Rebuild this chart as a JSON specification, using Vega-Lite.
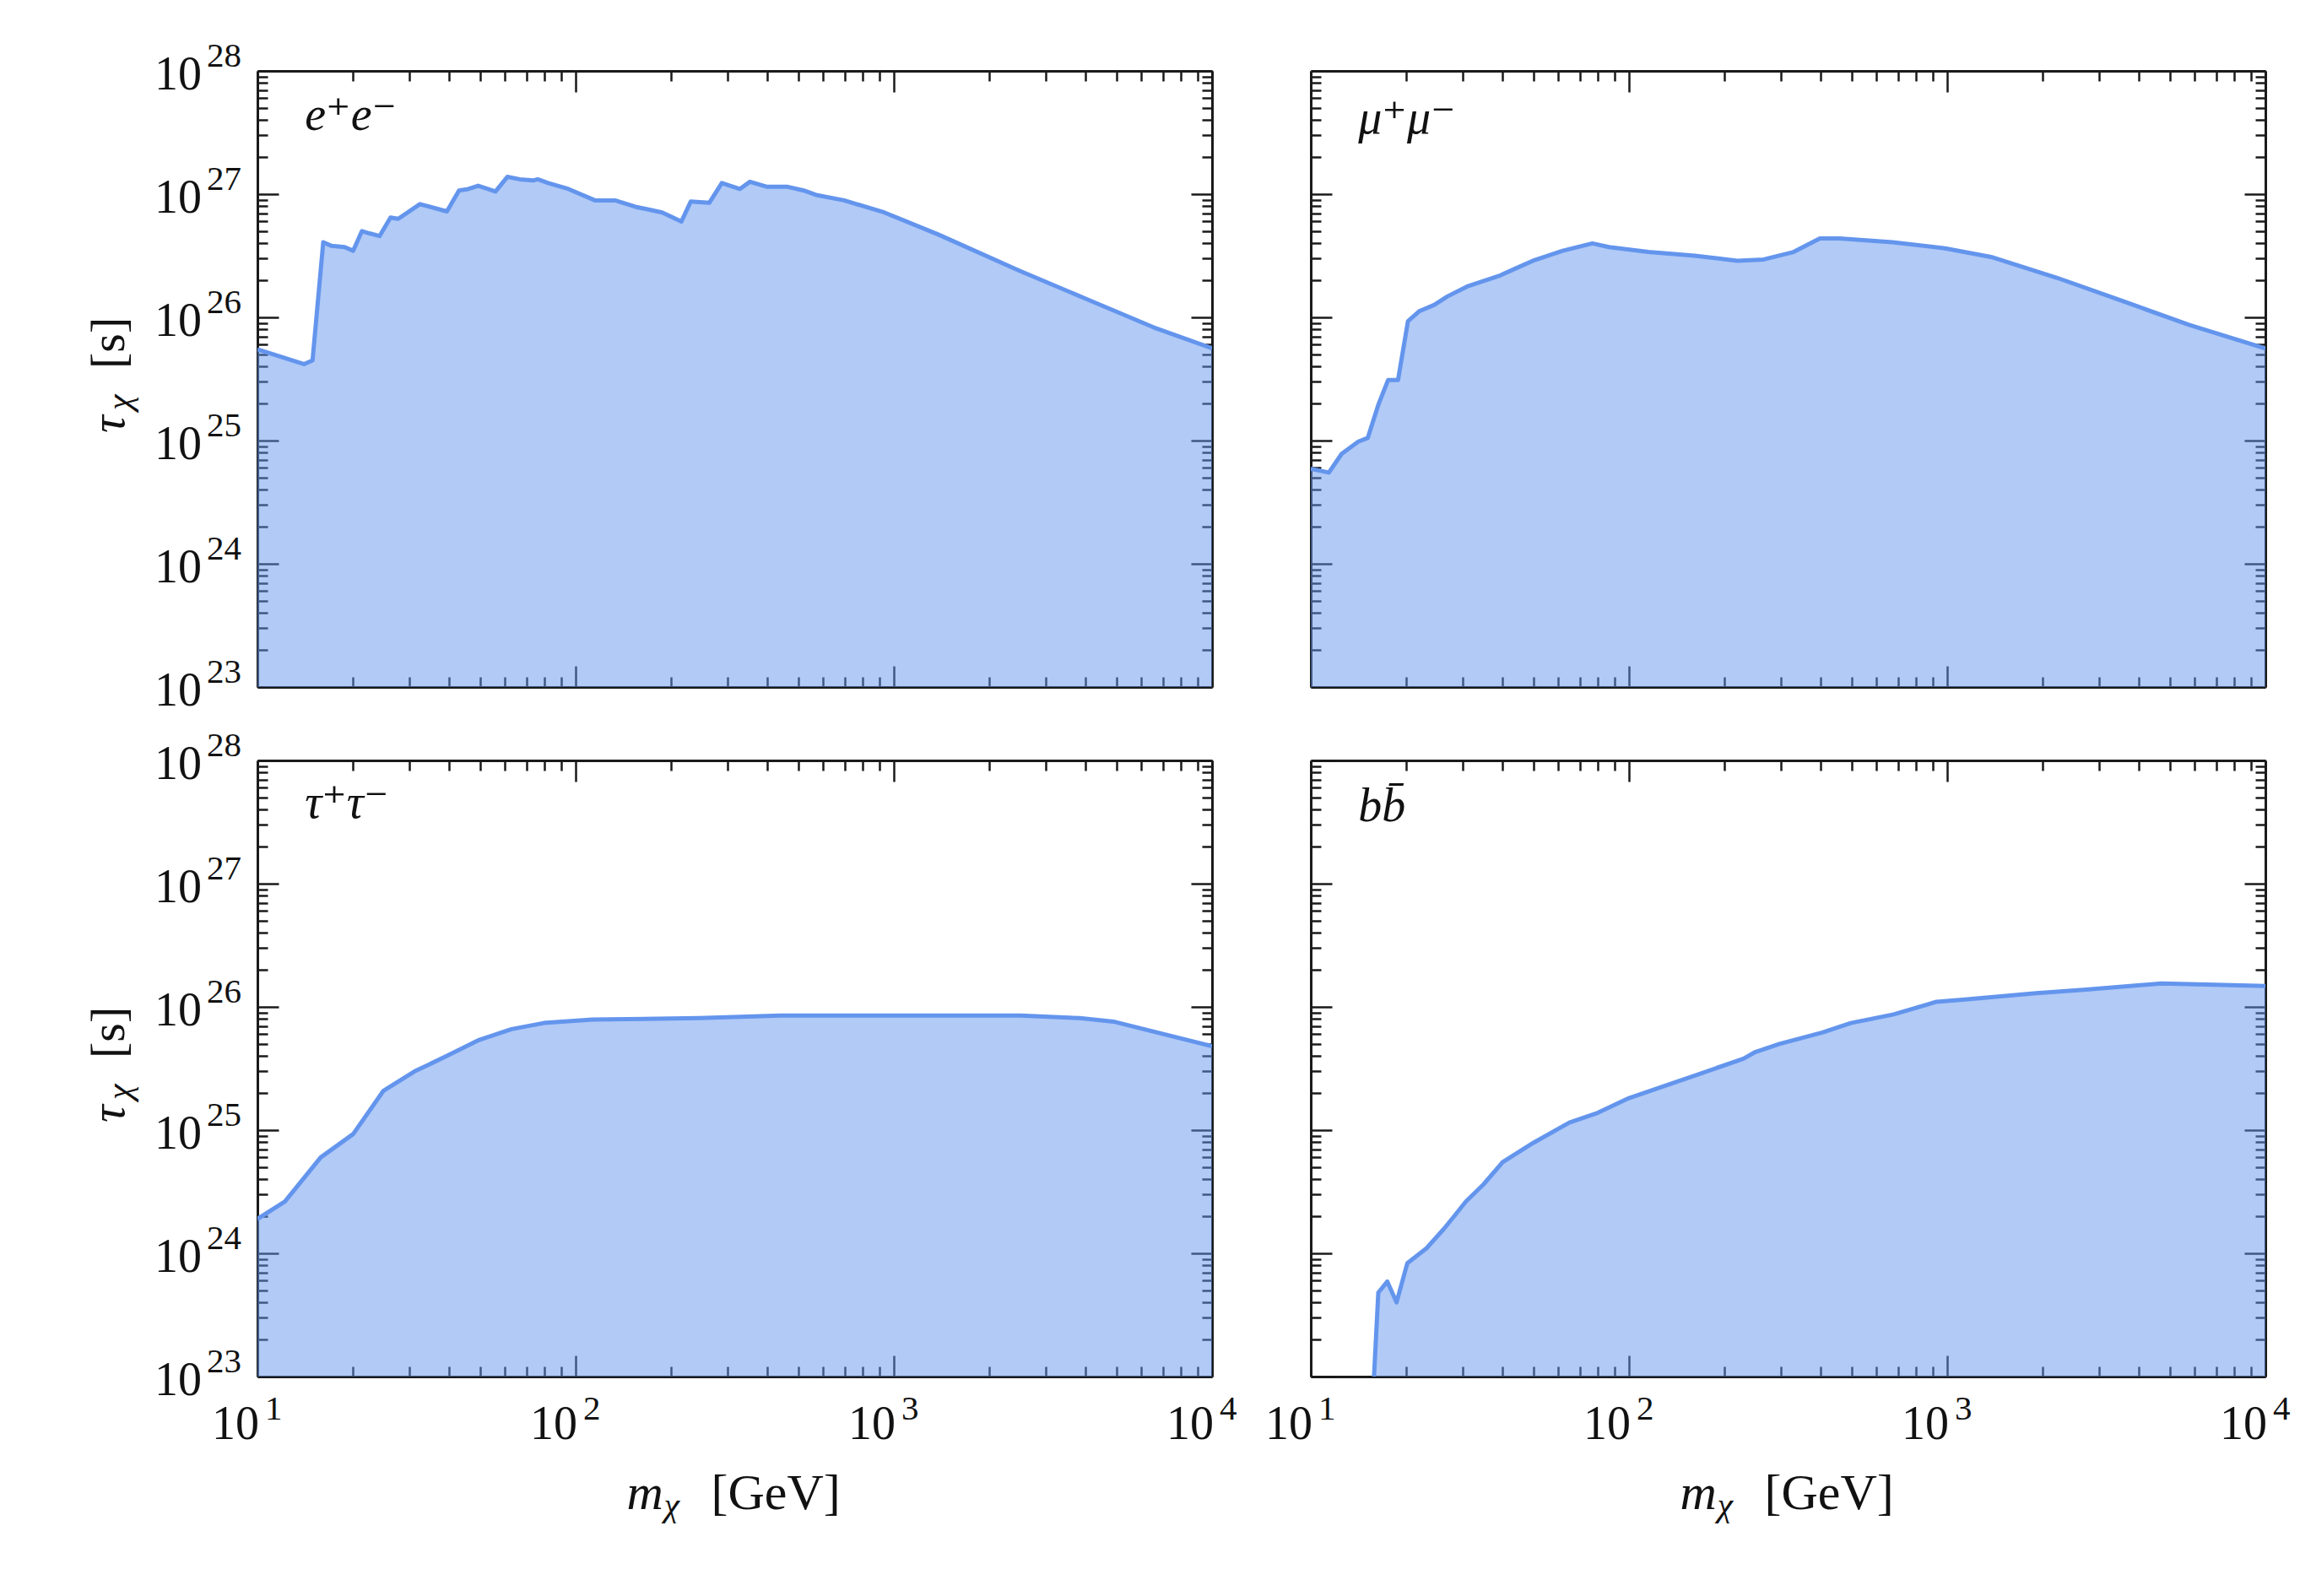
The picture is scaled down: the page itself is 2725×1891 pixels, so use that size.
{
  "$schema": "https://vega.github.io/schema/vega-lite/v6.json",
  "background": "white",
  "padding": {"left": 101, "top": 46, "right": 0, "bottom": 0},
  "columns": 2,
  "spacing": {"row": 87, "column": 117},
  "bounds": "flush",
  "config": {
    "view": {"stroke": null},
    "axis": {
      "domain": true, "domainColor": "#1a1a1a", "domainWidth": 3,
      "grid": false, "tickColor": "#1a1a1a", "tickWidth": 2.5, "labels": false,
      "zindex": 1
    },
    "text": {"font": "Liberation Serif, DejaVu Serif", "color": "#111111"}
  },
  "datasets": {
    "ylabels": [{"v": 1e23, "e": "23"}, {"v": 1e24, "e": "24"}, {"v": 1e25, "e": "25"}, {"v": 1e26, "e": "26"}, {"v": 1e27, "e": "27"}, {"v": 1e28, "e": "28"}],
    "xlabels": [{"v": 10, "e": "1"}, {"v": 100, "e": "2"}, {"v": 1000, "e": "3"}, {"v": 10000, "e": "4"}],
    "ee": [
      {"m": 10, "tau": 5.5e25}, {"m": 14.0, "tau": 4.17e25}, {"m": 14.9, "tau": 4.47e25}, {"m": 16.1, "tau": 4.07e26},
      {"m": 17.1, "tau": 3.8e26}, {"m": 18.8, "tau": 3.72e26}, {"m": 20.0, "tau": 3.47e26}, {"m": 21.3, "tau": 5.01e26},
      {"m": 22.5, "tau": 4.8e26}, {"m": 24.2, "tau": 4.57e26}, {"m": 26.2, "tau": 6.46e26}, {"m": 27.7, "tau": 6.3e26},
      {"m": 32.4, "tau": 8.3e26}, {"m": 39.4, "tau": 7.24e26}, {"m": 43.0, "tau": 1.07e27}, {"m": 46.0, "tau": 1.1e27},
      {"m": 49.4, "tau": 1.17e27}, {"m": 56, "tau": 1.05e27}, {"m": 61, "tau": 1.38e27}, {"m": 66.7, "tau": 1.32e27},
      {"m": 73.5, "tau": 1.29e27}, {"m": 76, "tau": 1.32e27}, {"m": 82, "tau": 1.23e27}, {"m": 95, "tau": 1.1e27},
      {"m": 115, "tau": 8.9e26}, {"m": 133, "tau": 8.9e26}, {"m": 154, "tau": 7.9e26}, {"m": 187, "tau": 7.1e26},
      {"m": 215, "tau": 6.0e26}, {"m": 230, "tau": 8.7e26}, {"m": 263, "tau": 8.5e26}, {"m": 288, "tau": 1.23e27},
      {"m": 328, "tau": 1.1e27}, {"m": 353, "tau": 1.26e27}, {"m": 398, "tau": 1.15e27}, {"m": 461, "tau": 1.15e27},
      {"m": 521, "tau": 1.07e27}, {"m": 574, "tau": 9.8e26}, {"m": 698, "tau": 8.9e26}, {"m": 933, "tau": 7.1e26},
      {"m": 1380, "tau": 4.7e26}, {"m": 2472, "tau": 2.4e26}, {"m": 4027, "tau": 1.41e26}, {"m": 6546, "tau": 8.3e25},
      {"m": 10000, "tau": 5.6e25}
    ],
    "mumu": [
      {"m": 10, "tau": 5.9e24}, {"m": 11.4, "tau": 5.5e24}, {"m": 12.5, "tau": 7.8e24}, {"m": 14.1, "tau": 9.8e24},
      {"m": 15.1, "tau": 1.05e25}, {"m": 16.3, "tau": 1.95e25}, {"m": 17.5, "tau": 3.1e25}, {"m": 18.8, "tau": 3.1e25},
      {"m": 20.2, "tau": 9.3e25}, {"m": 21.9, "tau": 1.12e26}, {"m": 24.4, "tau": 1.26e26}, {"m": 26.9, "tau": 1.48e26},
      {"m": 31, "tau": 1.78e26}, {"m": 39.4, "tau": 2.19e26}, {"m": 44.3, "tau": 2.51e26}, {"m": 49.9, "tau": 2.88e26},
      {"m": 61.9, "tau": 3.47e26}, {"m": 76.7, "tau": 3.98e26}, {"m": 86.5, "tau": 3.72e26}, {"m": 115, "tau": 3.39e26},
      {"m": 161, "tau": 3.16e26}, {"m": 219, "tau": 2.88e26}, {"m": 265, "tau": 2.95e26}, {"m": 329, "tau": 3.39e26},
      {"m": 398, "tau": 4.37e26}, {"m": 459, "tau": 4.37e26}, {"m": 673, "tau": 4.07e26}, {"m": 985, "tau": 3.63e26},
      {"m": 1374, "tau": 3.09e26}, {"m": 2218, "tau": 2.09e26}, {"m": 3573, "tau": 1.35e26}, {"m": 5754, "tau": 8.7e25},
      {"m": 10000, "tau": 5.6e25}
    ],
    "tautau": [
      {"m": 10, "tau": 1.9e24}, {"m": 12.2, "tau": 2.63e24}, {"m": 15.8, "tau": 6.0e24}, {"m": 20, "tau": 9.3e24},
      {"m": 24.9, "tau": 2.09e25}, {"m": 31.2, "tau": 3.0e25}, {"m": 39.4, "tau": 4.0e25}, {"m": 49.8, "tau": 5.4e25},
      {"m": 62.9, "tau": 6.6e25}, {"m": 79.4, "tau": 7.4e25}, {"m": 113, "tau": 7.9e25}, {"m": 245, "tau": 8.1e25},
      {"m": 441, "tau": 8.5e25}, {"m": 1650, "tau": 8.5e25}, {"m": 2500, "tau": 8.5e25}, {"m": 3840, "tau": 8.1e25},
      {"m": 4900, "tau": 7.6e25}, {"m": 10000, "tau": 4.8e25}
    ],
    "bb": [
      {"m": 15.8, "tau": 1e23}, {"m": 16.3, "tau": 4.8e23}, {"m": 17.4, "tau": 5.9e23}, {"m": 18.6, "tau": 4.0e23},
      {"m": 20.1, "tau": 8.3e23}, {"m": 23.1, "tau": 1.1e24}, {"m": 26.2, "tau": 1.58e24}, {"m": 28.4, "tau": 2.04e24},
      {"m": 30.7, "tau": 2.63e24}, {"m": 34.9, "tau": 3.63e24}, {"m": 40.1, "tau": 5.5e24}, {"m": 50.1, "tau": 7.9e24},
      {"m": 64.9, "tau": 1.15e25}, {"m": 79.7, "tau": 1.38e25}, {"m": 100, "tau": 1.82e25}, {"m": 144, "tau": 2.51e25},
      {"m": 164, "tau": 2.82e25}, {"m": 229, "tau": 3.8e25}, {"m": 248, "tau": 4.27e25}, {"m": 297, "tau": 5.0e25},
      {"m": 405, "tau": 6.2e25}, {"m": 498, "tau": 7.4e25}, {"m": 679, "tau": 8.7e25}, {"m": 925, "tau": 1.1e26},
      {"m": 1137, "tau": 1.15e26}, {"m": 1905, "tau": 1.29e26}, {"m": 2735, "tau": 1.38e26}, {"m": 4710, "tau": 1.55e26},
      {"m": 6918, "tau": 1.51e26}, {"m": 10000, "tau": 1.48e26}
    ]
  },
  "concat": [
    {
      "width": 1131, "height": 730,
      "data": {"name": "ee"},
      "resolve": {"axis": {"x": "independent", "y": "independent"}},
      "layer": [
        {
          "mark": {"type": "area", "color": "#6495ED", "opacity": 0.5, "clip": true},
          "encoding": {
            "x": {"field": "m", "type": "quantitative", "scale": {"type": "log", "domain": [10, 10000], "nice": false},
              "axis": {"orient": "bottom", "title": null, "values": [10,20,30,40,50,60,70,80,90,100,200,300,400,500,600,700,800,900,1000,2000,3000,4000,5000,6000,7000,8000,9000,10000],
                "tickSize": {"condition": {"test": "abs(log(datum.value)/LN10 - round(log(datum.value)/LN10)) < 0.0001", "value": -25}, "value": -12}}},
            "y": {"field": "tau", "type": "quantitative", "scale": {"type": "log", "domain": [1e23, 1e28], "nice": false},
              "axis": {"orient": "left", "title": null,
                "values": [1e23,2e23,3e23,4e23,5e23,6e23,7e23,8e23,9e23,1e24,2e24,3e24,4e24,5e24,6e24,7e24,8e24,9e24,1e25,2e25,3e25,4e25,5e25,6e25,7e25,8e25,9e25,1e26,2e26,3e26,4e26,5e26,6e26,7e26,8e26,9e26,1e27,2e27,3e27,4e27,5e27,6e27,7e27,8e27,9e27,1e28],
                "tickSize": {"condition": {"test": "abs(log(datum.value)/LN10 - round(log(datum.value)/LN10)) < 0.0001", "value": -25}, "value": -12}}},
            "y2": {"datum": 1e23}
          }
        },
        {
          "mark": {"type": "line", "color": "#6495ED", "strokeWidth": 5, "clip": true, "strokeJoin": "round"},
          "encoding": {
            "x": {"field": "m", "type": "quantitative",
              "axis": {"orient": "top", "title": null, "values": [10,20,30,40,50,60,70,80,90,100,200,300,400,500,600,700,800,900,1000,2000,3000,4000,5000,6000,7000,8000,9000,10000],
                "tickSize": {"condition": {"test": "abs(log(datum.value)/LN10 - round(log(datum.value)/LN10)) < 0.0001", "value": -25}, "value": -12}}},
            "y": {"field": "tau", "type": "quantitative",
              "axis": {"orient": "right", "title": null,
                "values": [1e23,2e23,3e23,4e23,5e23,6e23,7e23,8e23,9e23,1e24,2e24,3e24,4e24,5e24,6e24,7e24,8e24,9e24,1e25,2e25,3e25,4e25,5e25,6e25,7e25,8e25,9e25,1e26,2e26,3e26,4e26,5e26,6e26,7e26,8e26,9e26,1e27,2e27,3e27,4e27,5e27,6e27,7e27,8e27,9e27,1e28],
                "tickSize": {"condition": {"test": "abs(log(datum.value)/LN10 - round(log(datum.value)/LN10)) < 0.0001", "value": -25}, "value": -12}}}
          }
        },
        {
          "data": {"values": [{"label": "e⁺e⁻"}]},
          "mark": {"type": "text", "fontStyle": "italic", "fontSize": 56, "align": "left", "baseline": "alphabetic"},
          "encoding": {"x": {"datum": 14.1, "type": "quantitative", "axis": null}, "y": {"datum": 3.3e27, "type": "quantitative", "axis": null}, "text": {"field": "label"}}
        },
        {
          "data": {"name": "ylabels"},
          "mark": {"type": "text", "fontSize": 56, "align": "right", "baseline": "alphabetic", "dx": -66, "dy": 22},
          "encoding": {"x": {"datum": 10, "type": "quantitative", "axis": null}, "y": {"field": "v", "type": "quantitative", "axis": null}, "text": {"value": "10"}}
        },
        {
          "data": {"name": "ylabels"},
          "mark": {"type": "text", "fontSize": 41, "align": "left", "baseline": "alphabetic", "dx": -60, "dy": -5},
          "encoding": {"x": {"datum": 10, "type": "quantitative", "axis": null}, "y": {"field": "v", "type": "quantitative", "axis": null}, "text": {"field": "e"}}
        },
        {
          "data": {"values": [{"t": "τ"}]},
          "mark": {"type": "text", "fontStyle": "italic", "fontSize": 58, "align": "left", "baseline": "alphabetic", "angle": 270, "dx": -64, "dy": -158},
          "encoding": {"x": {"datum": 10, "type": "quantitative", "axis": null}, "y": {"datum": 3.1623e25, "type": "quantitative", "axis": null}, "text": {"field": "t"}}
        },
        {
          "data": {"values": [{"t": "χ"}]},
          "mark": {"type": "text", "fontStyle": "italic", "fontSize": 42, "align": "left", "baseline": "alphabetic", "angle": 270, "dx": -37, "dy": -150},
          "encoding": {"x": {"datum": 10, "type": "quantitative", "axis": null}, "y": {"datum": 3.1623e25, "type": "quantitative", "axis": null}, "text": {"field": "t"}}
        },
        {
          "data": {"values": [{"t": "[s]"}]},
          "mark": {"type": "text", "fontSize": 58, "align": "left", "baseline": "alphabetic", "angle": 270, "dx": 12, "dy": -158},
          "encoding": {"x": {"datum": 10, "type": "quantitative", "axis": null}, "y": {"datum": 3.1623e25, "type": "quantitative", "axis": null}, "text": {"field": "t"}}
        }
      ]
    },
    {
      "width": 1131, "height": 730,
      "data": {"name": "mumu"},
      "resolve": {"axis": {"x": "independent", "y": "independent"}},
      "layer": [
        {
          "mark": {"type": "area", "color": "#6495ED", "opacity": 0.5, "clip": true},
          "encoding": {
            "x": {"field": "m", "type": "quantitative", "scale": {"type": "log", "domain": [10, 10000], "nice": false},
              "axis": {"orient": "bottom", "title": null, "values": [10,20,30,40,50,60,70,80,90,100,200,300,400,500,600,700,800,900,1000,2000,3000,4000,5000,6000,7000,8000,9000,10000],
                "tickSize": {"condition": {"test": "abs(log(datum.value)/LN10 - round(log(datum.value)/LN10)) < 0.0001", "value": -25}, "value": -12}}},
            "y": {"field": "tau", "type": "quantitative", "scale": {"type": "log", "domain": [1e23, 1e28], "nice": false},
              "axis": {"orient": "left", "title": null,
                "values": [1e23,2e23,3e23,4e23,5e23,6e23,7e23,8e23,9e23,1e24,2e24,3e24,4e24,5e24,6e24,7e24,8e24,9e24,1e25,2e25,3e25,4e25,5e25,6e25,7e25,8e25,9e25,1e26,2e26,3e26,4e26,5e26,6e26,7e26,8e26,9e26,1e27,2e27,3e27,4e27,5e27,6e27,7e27,8e27,9e27,1e28],
                "tickSize": {"condition": {"test": "abs(log(datum.value)/LN10 - round(log(datum.value)/LN10)) < 0.0001", "value": -25}, "value": -12}}},
            "y2": {"datum": 1e23}
          }
        },
        {
          "mark": {"type": "line", "color": "#6495ED", "strokeWidth": 5, "clip": true, "strokeJoin": "round"},
          "encoding": {
            "x": {"field": "m", "type": "quantitative",
              "axis": {"orient": "top", "title": null, "values": [10,20,30,40,50,60,70,80,90,100,200,300,400,500,600,700,800,900,1000,2000,3000,4000,5000,6000,7000,8000,9000,10000],
                "tickSize": {"condition": {"test": "abs(log(datum.value)/LN10 - round(log(datum.value)/LN10)) < 0.0001", "value": -25}, "value": -12}}},
            "y": {"field": "tau", "type": "quantitative",
              "axis": {"orient": "right", "title": null,
                "values": [1e23,2e23,3e23,4e23,5e23,6e23,7e23,8e23,9e23,1e24,2e24,3e24,4e24,5e24,6e24,7e24,8e24,9e24,1e25,2e25,3e25,4e25,5e25,6e25,7e25,8e25,9e25,1e26,2e26,3e26,4e26,5e26,6e26,7e26,8e26,9e26,1e27,2e27,3e27,4e27,5e27,6e27,7e27,8e27,9e27,1e28],
                "tickSize": {"condition": {"test": "abs(log(datum.value)/LN10 - round(log(datum.value)/LN10)) < 0.0001", "value": -25}, "value": -12}}}
          }
        },
        {
          "data": {"values": [{"label": "μ⁺μ⁻"}]},
          "mark": {"type": "text", "fontStyle": "italic", "fontSize": 56, "align": "left", "baseline": "alphabetic"},
          "encoding": {"x": {"datum": 14.1, "type": "quantitative", "axis": null}, "y": {"datum": 3.1e27, "type": "quantitative", "axis": null}, "text": {"field": "label"}}
        }
      ]
    },
    {
      "width": 1131, "height": 730,
      "data": {"name": "tautau"},
      "resolve": {"axis": {"x": "independent", "y": "independent"}},
      "layer": [
        {
          "mark": {"type": "area", "color": "#6495ED", "opacity": 0.5, "clip": true},
          "encoding": {
            "x": {"field": "m", "type": "quantitative", "scale": {"type": "log", "domain": [10, 10000], "nice": false},
              "axis": {"orient": "bottom", "title": null, "values": [10,20,30,40,50,60,70,80,90,100,200,300,400,500,600,700,800,900,1000,2000,3000,4000,5000,6000,7000,8000,9000,10000],
                "tickSize": {"condition": {"test": "abs(log(datum.value)/LN10 - round(log(datum.value)/LN10)) < 0.0001", "value": -25}, "value": -12}}},
            "y": {"field": "tau", "type": "quantitative", "scale": {"type": "log", "domain": [1e23, 1e28], "nice": false},
              "axis": {"orient": "left", "title": null,
                "values": [1e23,2e23,3e23,4e23,5e23,6e23,7e23,8e23,9e23,1e24,2e24,3e24,4e24,5e24,6e24,7e24,8e24,9e24,1e25,2e25,3e25,4e25,5e25,6e25,7e25,8e25,9e25,1e26,2e26,3e26,4e26,5e26,6e26,7e26,8e26,9e26,1e27,2e27,3e27,4e27,5e27,6e27,7e27,8e27,9e27,1e28],
                "tickSize": {"condition": {"test": "abs(log(datum.value)/LN10 - round(log(datum.value)/LN10)) < 0.0001", "value": -25}, "value": -12}}},
            "y2": {"datum": 1e23}
          }
        },
        {
          "mark": {"type": "line", "color": "#6495ED", "strokeWidth": 5, "clip": true, "strokeJoin": "round"},
          "encoding": {
            "x": {"field": "m", "type": "quantitative",
              "axis": {"orient": "top", "title": null, "values": [10,20,30,40,50,60,70,80,90,100,200,300,400,500,600,700,800,900,1000,2000,3000,4000,5000,6000,7000,8000,9000,10000],
                "tickSize": {"condition": {"test": "abs(log(datum.value)/LN10 - round(log(datum.value)/LN10)) < 0.0001", "value": -25}, "value": -12}}},
            "y": {"field": "tau", "type": "quantitative",
              "axis": {"orient": "right", "title": null,
                "values": [1e23,2e23,3e23,4e23,5e23,6e23,7e23,8e23,9e23,1e24,2e24,3e24,4e24,5e24,6e24,7e24,8e24,9e24,1e25,2e25,3e25,4e25,5e25,6e25,7e25,8e25,9e25,1e26,2e26,3e26,4e26,5e26,6e26,7e26,8e26,9e26,1e27,2e27,3e27,4e27,5e27,6e27,7e27,8e27,9e27,1e28],
                "tickSize": {"condition": {"test": "abs(log(datum.value)/LN10 - round(log(datum.value)/LN10)) < 0.0001", "value": -25}, "value": -12}}}
          }
        },
        {
          "data": {"values": [{"label": "τ⁺τ⁻"}]},
          "mark": {"type": "text", "fontStyle": "italic", "fontSize": 56, "align": "left", "baseline": "alphabetic"},
          "encoding": {"x": {"datum": 14.1, "type": "quantitative", "axis": null}, "y": {"datum": 3.4e27, "type": "quantitative", "axis": null}, "text": {"field": "label"}}
        },
        {
          "data": {"name": "ylabels"},
          "mark": {"type": "text", "fontSize": 56, "align": "right", "baseline": "alphabetic", "dx": -66, "dy": 22},
          "encoding": {"x": {"datum": 10, "type": "quantitative", "axis": null}, "y": {"field": "v", "type": "quantitative", "axis": null}, "text": {"value": "10"}}
        },
        {
          "data": {"name": "ylabels"},
          "mark": {"type": "text", "fontSize": 41, "align": "left", "baseline": "alphabetic", "dx": -60, "dy": -5},
          "encoding": {"x": {"datum": 10, "type": "quantitative", "axis": null}, "y": {"field": "v", "type": "quantitative", "axis": null}, "text": {"field": "e"}}
        },
        {
          "data": {"values": [{"t": "τ"}]},
          "mark": {"type": "text", "fontStyle": "italic", "fontSize": 58, "align": "left", "baseline": "alphabetic", "angle": 270, "dx": -64, "dy": -158},
          "encoding": {"x": {"datum": 10, "type": "quantitative", "axis": null}, "y": {"datum": 3.1623e25, "type": "quantitative", "axis": null}, "text": {"field": "t"}}
        },
        {
          "data": {"values": [{"t": "χ"}]},
          "mark": {"type": "text", "fontStyle": "italic", "fontSize": 42, "align": "left", "baseline": "alphabetic", "angle": 270, "dx": -37, "dy": -150},
          "encoding": {"x": {"datum": 10, "type": "quantitative", "axis": null}, "y": {"datum": 3.1623e25, "type": "quantitative", "axis": null}, "text": {"field": "t"}}
        },
        {
          "data": {"values": [{"t": "[s]"}]},
          "mark": {"type": "text", "fontSize": 58, "align": "left", "baseline": "alphabetic", "angle": 270, "dx": 12, "dy": -158},
          "encoding": {"x": {"datum": 10, "type": "quantitative", "axis": null}, "y": {"datum": 3.1623e25, "type": "quantitative", "axis": null}, "text": {"field": "t"}}
        },
        {
          "data": {"name": "xlabels"},
          "mark": {"type": "text", "fontSize": 56, "align": "right", "baseline": "alphabetic", "dx": 2, "dy": 74},
          "encoding": {"x": {"field": "v", "type": "quantitative", "axis": null}, "y": {"datum": 1e23, "type": "quantitative", "axis": null}, "text": {"value": "10"}}
        },
        {
          "data": {"name": "xlabels"},
          "mark": {"type": "text", "fontSize": 41, "align": "left", "baseline": "alphabetic", "dx": 9, "dy": 51},
          "encoding": {"x": {"field": "v", "type": "quantitative", "axis": null}, "y": {"datum": 1e23, "type": "quantitative", "axis": null}, "text": {"field": "e"}}
        },
        {
          "data": {"values": [{"t": "m"}]},
          "mark": {"type": "text", "fontStyle": "italic", "fontSize": 60, "align": "left", "baseline": "alphabetic", "dx": -128, "dy": 157},
          "encoding": {"x": {"datum": 316.23, "type": "quantitative", "axis": null}, "y": {"datum": 1e23, "type": "quantitative", "axis": null}, "text": {"field": "t"}}
        },
        {
          "data": {"values": [{"t": "χ"}]},
          "mark": {"type": "text", "fontStyle": "italic", "fontSize": 42, "align": "left", "baseline": "alphabetic", "dx": -84, "dy": 166},
          "encoding": {"x": {"datum": 316.23, "type": "quantitative", "axis": null}, "y": {"datum": 1e23, "type": "quantitative", "axis": null}, "text": {"field": "t"}}
        },
        {
          "data": {"values": [{"t": "[GeV]"}]},
          "mark": {"type": "text", "fontSize": 60, "align": "left", "baseline": "alphabetic", "dx": -28, "dy": 157},
          "encoding": {"x": {"datum": 316.23, "type": "quantitative", "axis": null}, "y": {"datum": 1e23, "type": "quantitative", "axis": null}, "text": {"field": "t"}}
        }
      ]
    },
    {
      "width": 1131, "height": 730,
      "data": {"name": "bb"},
      "resolve": {"axis": {"x": "independent", "y": "independent"}},
      "layer": [
        {
          "mark": {"type": "area", "color": "#6495ED", "opacity": 0.5, "clip": true},
          "encoding": {
            "x": {"field": "m", "type": "quantitative", "scale": {"type": "log", "domain": [10, 10000], "nice": false},
              "axis": {"orient": "bottom", "title": null, "values": [10,20,30,40,50,60,70,80,90,100,200,300,400,500,600,700,800,900,1000,2000,3000,4000,5000,6000,7000,8000,9000,10000],
                "tickSize": {"condition": {"test": "abs(log(datum.value)/LN10 - round(log(datum.value)/LN10)) < 0.0001", "value": -25}, "value": -12}}},
            "y": {"field": "tau", "type": "quantitative", "scale": {"type": "log", "domain": [1e23, 1e28], "nice": false},
              "axis": {"orient": "left", "title": null,
                "values": [1e23,2e23,3e23,4e23,5e23,6e23,7e23,8e23,9e23,1e24,2e24,3e24,4e24,5e24,6e24,7e24,8e24,9e24,1e25,2e25,3e25,4e25,5e25,6e25,7e25,8e25,9e25,1e26,2e26,3e26,4e26,5e26,6e26,7e26,8e26,9e26,1e27,2e27,3e27,4e27,5e27,6e27,7e27,8e27,9e27,1e28],
                "tickSize": {"condition": {"test": "abs(log(datum.value)/LN10 - round(log(datum.value)/LN10)) < 0.0001", "value": -25}, "value": -12}}},
            "y2": {"datum": 1e23}
          }
        },
        {
          "mark": {"type": "line", "color": "#6495ED", "strokeWidth": 5, "clip": true, "strokeJoin": "round"},
          "encoding": {
            "x": {"field": "m", "type": "quantitative",
              "axis": {"orient": "top", "title": null, "values": [10,20,30,40,50,60,70,80,90,100,200,300,400,500,600,700,800,900,1000,2000,3000,4000,5000,6000,7000,8000,9000,10000],
                "tickSize": {"condition": {"test": "abs(log(datum.value)/LN10 - round(log(datum.value)/LN10)) < 0.0001", "value": -25}, "value": -12}}},
            "y": {"field": "tau", "type": "quantitative",
              "axis": {"orient": "right", "title": null,
                "values": [1e23,2e23,3e23,4e23,5e23,6e23,7e23,8e23,9e23,1e24,2e24,3e24,4e24,5e24,6e24,7e24,8e24,9e24,1e25,2e25,3e25,4e25,5e25,6e25,7e25,8e25,9e25,1e26,2e26,3e26,4e26,5e26,6e26,7e26,8e26,9e26,1e27,2e27,3e27,4e27,5e27,6e27,7e27,8e27,9e27,1e28],
                "tickSize": {"condition": {"test": "abs(log(datum.value)/LN10 - round(log(datum.value)/LN10)) < 0.0001", "value": -25}, "value": -12}}}
          }
        },
        {
          "data": {"values": [{"label": "bb̄"}]},
          "mark": {"type": "text", "fontStyle": "italic", "fontSize": 56, "align": "left", "baseline": "alphabetic"},
          "encoding": {"x": {"datum": 14.1, "type": "quantitative", "axis": null}, "y": {"datum": 3.2e27, "type": "quantitative", "axis": null}, "text": {"field": "label"}}
        },
        {
          "data": {"name": "xlabels"},
          "mark": {"type": "text", "fontSize": 56, "align": "right", "baseline": "alphabetic", "dx": 2, "dy": 74},
          "encoding": {"x": {"field": "v", "type": "quantitative", "axis": null}, "y": {"datum": 1e23, "type": "quantitative", "axis": null}, "text": {"value": "10"}}
        },
        {
          "data": {"name": "xlabels"},
          "mark": {"type": "text", "fontSize": 41, "align": "left", "baseline": "alphabetic", "dx": 9, "dy": 51},
          "encoding": {"x": {"field": "v", "type": "quantitative", "axis": null}, "y": {"datum": 1e23, "type": "quantitative", "axis": null}, "text": {"field": "e"}}
        },
        {
          "data": {"values": [{"t": "m"}]},
          "mark": {"type": "text", "fontStyle": "italic", "fontSize": 60, "align": "left", "baseline": "alphabetic", "dx": -128, "dy": 157},
          "encoding": {"x": {"datum": 316.23, "type": "quantitative", "axis": null}, "y": {"datum": 1e23, "type": "quantitative", "axis": null}, "text": {"field": "t"}}
        },
        {
          "data": {"values": [{"t": "χ"}]},
          "mark": {"type": "text", "fontStyle": "italic", "fontSize": 42, "align": "left", "baseline": "alphabetic", "dx": -84, "dy": 166},
          "encoding": {"x": {"datum": 316.23, "type": "quantitative", "axis": null}, "y": {"datum": 1e23, "type": "quantitative", "axis": null}, "text": {"field": "t"}}
        },
        {
          "data": {"values": [{"t": "[GeV]"}]},
          "mark": {"type": "text", "fontSize": 60, "align": "left", "baseline": "alphabetic", "dx": -28, "dy": 157},
          "encoding": {"x": {"datum": 316.23, "type": "quantitative", "axis": null}, "y": {"datum": 1e23, "type": "quantitative", "axis": null}, "text": {"field": "t"}}
        }
      ]
    }
  ]
}
